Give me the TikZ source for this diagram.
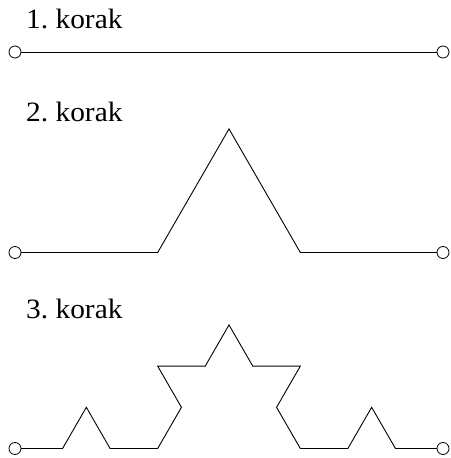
\documentclass[tikz,border=0pt]{standalone}
\usepackage{fontspec}
\setmainfont{Liberation Serif}
\newfontfamily\lblfont[FakeStretch=1.05]{Liberation Serif}
\begin{document}
\begin{tikzpicture}[x=1pt,y=1pt,
  curve/.style={line width=0.9pt, line join=miter},
  endpt/.style={draw, circle, fill=white, inner sep=0pt, minimum size=12pt, line width=0.8pt},
  steplabel/.style={anchor=base west, inner sep=0pt, font=\lblfont\fontsize{28}{32}\selectfont}]
\useasboundingbox (0,0) rectangle (450,458);
% labels
\node[steplabel] (t1) at (26,429) {1.\ korak};
\node[steplabel] (t2) at (26,336) {2.\ korak};
\node[steplabel] (t3) at (26,139) {3.\ korak};
% step 1
\coordinate (a1) at (15,406);
\coordinate (b1) at (443,406);
\draw[curve] (a1) -- (b1);
% step 2
\coordinate (a2) at (15,205.5);
\coordinate (b2) at (443,205.5);
\draw[curve] (a2) \foreach \ang in {0,60,-60,0} { -- ++(\ang:142.667pt) };
% step 3
\coordinate (a3) at (15,9.5);
\coordinate (b3) at (443,9.5);
\draw[curve] (a3) \foreach \ang in {0,60,-60,0,60,120,0,60,-60,0,-120,-60,0,60,-60,0} { -- ++(\ang:47.556pt) };
% end points
\node[endpt] (p1a) at (a1) {};
\node[endpt] (p1b) at (b1) {};
\node[endpt] (p2a) at (a2) {};
\node[endpt] (p2b) at (b2) {};
\node[endpt] (p3a) at (a3) {};
\node[endpt] (p3b) at (b3) {};
\end{tikzpicture}
\end{document}
